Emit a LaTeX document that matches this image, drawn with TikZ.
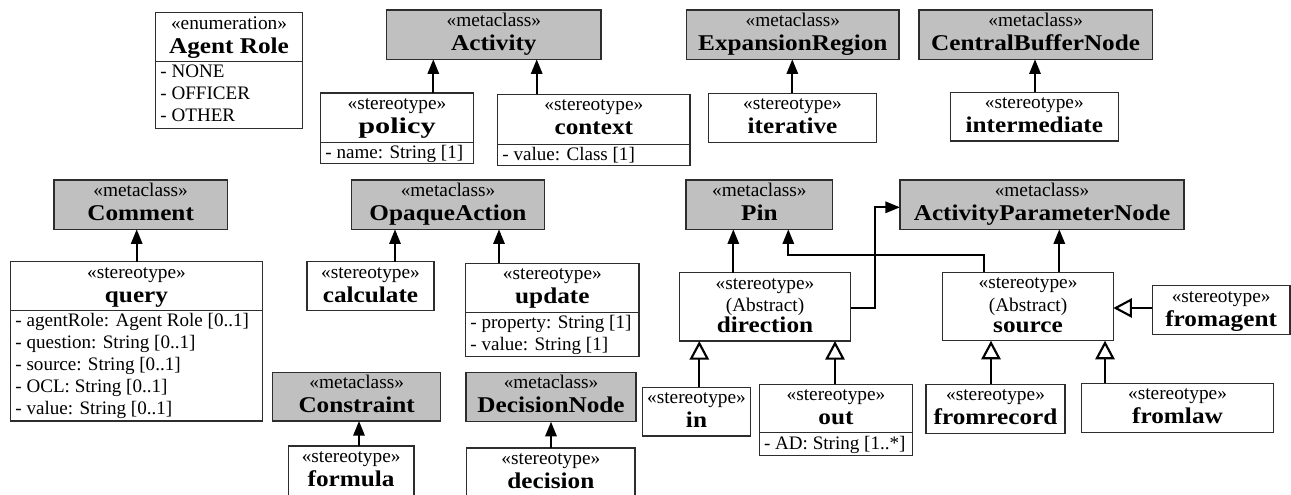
\documentclass[tikz,border=0pt]{standalone}
\usepackage{fontspec}
\usepackage{graphicx}
\setmainfont{Liberation Serif}
\newfontfamily\namefont[FakeStretch=1.12]{Liberation Serif}
\usetikzlibrary{arrows.meta,fit,calc}
\definecolor{metagray}{RGB}{192,192,192}
\definecolor{edgecol}{RGB}{45,45,45}
\tikzset{
 umlbox/.style={draw=edgecol, line width=0.9pt, inner sep=0pt, outer sep=0pt, rectangle},
 metabox/.style={umlbox, fill=metagray},
 stbox/.style={umlbox, fill=white},
 sttxt/.style={anchor=base, inner sep=0pt, font=\fontsize{14.5}{17}\selectfont},
 nmtxt/.style={anchor=base, inner sep=0pt, font=\namefont\bfseries\fontsize{16.9}{20}\selectfont},
 attrtxt/.style={anchor=base west, inner sep=0pt, font=\fontsize{14.3}{17}\selectfont},
 assoc/.style={line width=1.6pt, draw=black, -{Triangle[length=11pt,width=8.5pt]}},
 gen/.style={line width=1.6pt, draw=black, -{Triangle[open,length=14pt,width=14.5pt,fill=white]}},
 divline/.style={draw=edgecol, line width=0.9pt},
}
\newcommand\metaclassbox[6]{%
 \node[metabox, fit={(#2,#3)(#4,#5)}] (#1) {};
 \node[sttxt] (#1-st) at ($(#1.north)+(0,16.5)$) {«metaclass»};
 \node[nmtxt] (#1-nm) at ($(#1.north)+(0,40.5)$) {#6};}
\newcommand\stereobox[6]{%
 \node[stbox, fit={(#2,#3)(#4,#5)}] (#1) {};
 \node[sttxt] (#1-st) at ($(#1.north)+(0,16.5)$) {«stereotype»};
 \node[nmtxt] (#1-nm) at ($(#1.north)+(0,40.5)$) {#6};}
\newcommand\abstractbox[6]{%
 \node[stbox, fit={(#2,#3)(#4,#5)}] (#1) {};
 \node[sttxt] (#1-st) at ($(#1.north)+(0,16.5)$) {«stereotype»};
 \node[sttxt] (#1-ab) at ($(#1.north)+(0,39)$) {(Abstract)};
 \node[nmtxt] (#1-nm) at ($(#1.north)+(0,60)$) {#6};}
\newcommand\divider[2]{\draw[divline] (#1.west |- 0,#2) -- (#1.east |- 0,#2);}
\newcommand\attr[4]{\node[attrtxt] (#2) at ($(#1.west |- 0,#3)+(4.5,0)$) {#4};}
\begin{document}
\begin{tikzpicture}[x=0.75pt,y=-0.75pt]
\useasboundingbox (0,0) rectangle (1291,494);
\clip (0,0) rectangle (1291,494);
\fill[white] (0,0) rectangle (1291,494);

% enumeration
\node[stbox, fit={(155.7,12.7)(302.3,128.3)}] (role) {};
\node[sttxt] (role-st) at ($(role.north)+(0,16.5)$) {«enumeration»};
\node[nmtxt] (role-nm) at ($(role.north)+(0,40.5)$) {Agent Role};
\divider{role}{61.7}
\attr{role}{role-a1}{77.7}{- NONE}
\attr{role}{role-a2}{99.7}{- OFFICER}
\attr{role}{role-a3}{121.7}{- OTHER}

% metaclasses
\metaclassbox{activity}{386.7}{10}{601}{59.3}{Activity}
\metaclassbox{expansion}{686.7}{10}{899}{59.3}{ExpansionRegion}
\metaclassbox{cbn}{919}{10}{1152.3}{59.3}{CentralBufferNode}
\metaclassbox{comment}{54}{180}{227.3}{229.3}{Comment}
\metaclassbox{opaque}{351.7}{180}{544.3}{229.3}{OpaqueAction}
\metaclassbox{pin}{686}{180}{832.7}{229.3}{Pin}
\metaclassbox{apn}{900}{180}{1184}{229.3}{ActivityParameterNode}
\metaclassbox{constraint}{272.7}{372.3}{440.7}{421}{Constraint}
\metaclassbox{decnode}{466}{372.3}{636}{421.7}{DecisionNode}

% stereotypes
\stereobox{policy}{320.7}{93}{473.3}{163.7}{\scalebox{1.2}[1]{policy}}
\divider{policy}{142.8}
\attr{policy}{policy-a1}{158.5}{- name: String [1]}

\stereobox{context}{497.7}{94.3}{690}{165.7}{context}
\divider{context}{144.3}
\attr{context}{context-a1}{160}{- value: Class [1]}

\stereobox{iterative}{708.3}{93.3}{876.7}{142.7}{iterative}
\stereobox{intermediate}{950.3}{92.3}{1118.3}{141}{intermediate}

\stereobox{query}{10.7}{261.7}{262.3}{421}{query}
\divider{query}{310.7}
\attr{query}{query-a1}{326.7}{- agentRole: Agent Role [0..1]}
\attr{query}{query-a2}{348.7}{- question: String [0..1]}
\attr{query}{query-a3}{370.7}{- source: String [0..1]}
\attr{query}{query-a4}{392.7}{- OCL: String [0..1]}
\attr{query}{query-a5}{414.7}{- value: String [0..1]}

\stereobox{calculate}{307}{261.7}{434}{310.7}{calculate}

\stereobox{update}{465.7}{263.3}{639}{356.7}{update}
\divider{update}{312.3}
\attr{update}{update-a1}{328.5}{- property: String [1]}
\attr{update}{update-a2}{350.5}{- value: String [1]}

\stereobox{formula}{288.3}{446}{414}{500}{formula}
\stereobox{decision}{466.7}{448}{635}{500}{decision}

\abstractbox{direction}{679.3}{272.7}{850.7}{341}{direction}
\abstractbox{source}{942.7}{272.3}{1113.3}{340.7}{source}

\stereobox{fromagent}{1152.3}{285.7}{1290}{334.3}{fromagent}
\stereobox{in}{642.3}{387.3}{750.7}{436}{in}
\stereobox{out}{759.3}{384.3}{912.7}{455.7}{out}
\divider{out}{432.7}
\attr{out}{out-a1}{449}{- AD: String [1..*]}
\stereobox{fromrecord}{926}{384.3}{1065}{433.3}{fromrecord}
\stereobox{fromlaw}{1081.7}{383.3}{1273.3}{432.3}{fromlaw}

% extension connectors
\draw[assoc] (policy.north -| 433.3,0) -- (activity.south -| 433.3,0);
\draw[assoc] (context.north -| 536.7,0) -- (activity.south -| 536.7,0);
\draw[assoc] (iterative.north -| 792.3,0) -- (expansion.south -| 792.3,0);
\draw[assoc] (intermediate.north -| 1035,0) -- (cbn.south -| 1035,0);
\draw[assoc] (query.north -| 136.7,0) -- (comment.south -| 136.7,0);
\draw[assoc] (calculate.north -| 395,0) -- (opaque.south -| 395,0);
\draw[assoc] (update.north -| 499,0) -- (opaque.south -| 499,0);
\draw[assoc] (formula.north -| 359,0) -- (constraint.south -| 359,0);
\draw[assoc] (decision.north -| 551,0) -- (decnode.south -| 551,0);
\draw[assoc] (direction.north -| 733.3,0) -- (pin.south -| 733.3,0);
\draw[assoc] (source.north -| 1059.3,0) -- (apn.south -| 1059.3,0);
\draw[assoc] (direction.east |- 0,307.7) -- (875,307.7) |- (apn.west |- 0,207.3);
\draw[assoc] (source.north -| 984.3,0) |- (788.3,255) -- (pin.south -| 788.3,0);

% generalizations
\draw[gen] (in.north -| 699.3,0) -- (direction.south -| 699.3,0);
\draw[gen] (out.north -| 835,0) -- (direction.south -| 835,0);
\draw[gen] (fromrecord.north -| 991,0) -- (source.south -| 991,0);
\draw[gen] (fromlaw.north -| 1105,0) -- (source.south -| 1105,0);
\draw[gen] (fromagent.west |- 0,308) -- (source.east |- 0,308);
\end{tikzpicture}
\end{document}
